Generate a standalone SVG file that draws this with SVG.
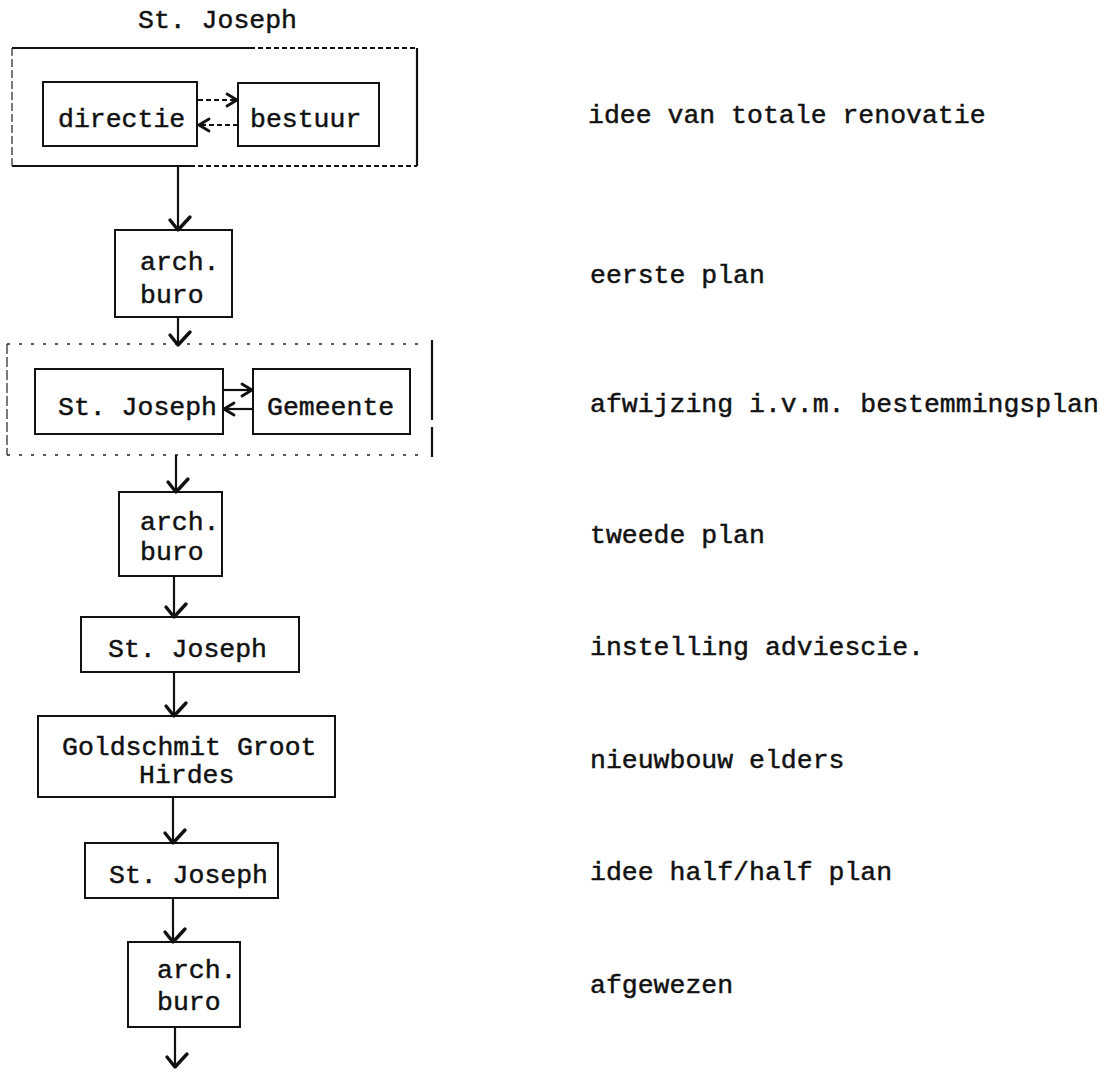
<svg xmlns="http://www.w3.org/2000/svg" width="1109" height="1079" viewBox="0 0 1109 1079">
<style>
text{font-family:"Liberation Mono","Courier New",monospace;font-size:26.5px;fill:#111;stroke:#111;stroke-width:0.45}
.box{fill:none;stroke:#111;stroke-width:2}
.ln{stroke:#111;stroke-width:2.2;fill:none}
.dl{stroke:#111;stroke-width:2;fill:none;stroke-dasharray:5 3}
.thin{stroke:#222;stroke-width:1.2;fill:none}
.sparse{stroke:#222;stroke-width:1.5;fill:none;stroke-dasharray:3 9}
</style>
<defs>
<marker id="ah" markerUnits="userSpaceOnUse" markerWidth="30" markerHeight="30" refX="0" refY="0" orient="auto" style="overflow:visible">
<path d="M-10,8 L0,0 L-13,-12" fill="none" stroke="#111" stroke-width="3.4" stroke-linecap="round" stroke-linejoin="round"/>
</marker>
<marker id="ahs" markerUnits="userSpaceOnUse" markerWidth="20" markerHeight="20" refX="0" refY="0" orient="auto" style="overflow:visible">
<path d="M-10,-6 L0,0 L-10,6" fill="none" stroke="#111" stroke-width="2.8" stroke-linecap="round" stroke-linejoin="round"/>
</marker>
</defs>
<rect width="1109" height="1079" fill="#fff"/>

<g id="group1">
<text x="138" y="28">St. Joseph</text>
<line class="ln" x1="12" y1="48" x2="250" y2="48"/>
<line class="dl" x1="250" y1="48" x2="417" y2="48"/>
<line class="ln" x1="417" y1="48" x2="417" y2="166"/>
<line class="ln" x1="12" y1="166" x2="190" y2="166"/>
<line class="dl" x1="190" y1="166" x2="417" y2="166"/>
<line class="thin" x1="12" y1="48" x2="12" y2="166" stroke-dasharray="8 3"/>
</g>
<g id="directie">
<rect class="box" x="43" y="82" width="154" height="64"/>
<text x="58" y="127">directie</text>
</g>
<g id="bestuur">
<rect class="box" x="238" y="83" width="141" height="63"/>
<text x="250" y="127">bestuur</text>
</g>
<g id="arch1">
<rect class="box" x="115" y="230" width="117" height="87"/>
<text x="140" y="270">arch.</text>
<text x="140" y="303">buro</text>
</g>

<g id="group2">
<line class="sparse" x1="7" y1="344" x2="418" y2="344"/>
<line class="thin" x1="7" y1="344" x2="7" y2="455" stroke-dasharray="10 3"/>
<line class="ln" x1="432" y1="340" x2="432" y2="420"/>
<line class="ln" x1="432" y1="427" x2="432" y2="457"/>
<line class="sparse" x1="7" y1="455" x2="418" y2="455"/>
</g>
<g id="stjoseph2">
<rect class="box" x="35" y="369" width="188" height="65"/>
<text x="58" y="415">St. Joseph</text>
</g>
<g id="gemeente">
<rect class="box" x="253" y="369" width="157" height="65"/>
<text x="267" y="415">Gemeente</text>
</g>
<g id="arch2">
<rect class="box" x="119" y="492" width="103" height="84"/>
<text x="140" y="530">arch.</text>
<text x="140" y="560">buro</text>
</g>
<g id="stjoseph3">
<rect class="box" x="81" y="617" width="218" height="55"/>
<text x="108" y="657">St. Joseph</text>
</g>
<g id="goldschmit">
<rect class="box" x="38" y="716" width="297" height="81"/>
<text x="62" y="755">Goldschmit Groot</text>
<text x="139" y="783">Hirdes</text>
</g>
<g id="stjoseph4">
<rect class="box" x="85" y="843" width="193" height="55"/>
<text x="109" y="883">St. Joseph</text>
</g>
<g id="arch3">
<rect class="box" x="128" y="942" width="112" height="85"/>
<text x="157" y="978">arch.</text>
<text x="157" y="1010">buro</text>
</g>

<g id="connectors">
<line class="ln" x1="178" y1="166" x2="178" y2="230" marker-end="url(#ah)"/>
<line class="ln" x1="178" y1="317" x2="178" y2="345" marker-end="url(#ah)"/>
<line class="ln" x1="176" y1="455" x2="176" y2="492" marker-end="url(#ah)"/>
<line class="ln" x1="174" y1="576" x2="174" y2="617" marker-end="url(#ah)"/>
<line class="ln" x1="174" y1="672" x2="174" y2="716" marker-end="url(#ah)"/>
<line class="ln" x1="173" y1="797" x2="173" y2="843" marker-end="url(#ah)"/>
<line class="ln" x1="173" y1="898" x2="173" y2="942" marker-end="url(#ah)"/>
<line class="ln" x1="175" y1="1027" x2="175" y2="1067" marker-end="url(#ah)"/>
<line class="dl" x1="198" y1="100" x2="237" y2="100" marker-end="url(#ahs)"/>
<line class="dl" x1="238" y1="125" x2="199" y2="125" marker-end="url(#ahs)"/>
<line class="ln" x1="223" y1="390" x2="252" y2="390" marker-end="url(#ahs)"/>
<line class="ln" x1="253" y1="409" x2="224" y2="409" marker-end="url(#ahs)"/>
</g>

<g id="notes">
<text x="588" y="123">idee van totale renovatie</text>
<text x="590" y="283">eerste plan</text>
<text x="590" y="412">afwijzing i.v.m. bestemmingsplan</text>
<text x="590" y="543">tweede plan</text>
<text x="590" y="655">instelling adviescie.</text>
<text x="590" y="768">nieuwbouw elders</text>
<text x="590" y="880">idee half/half plan</text>
<text x="590" y="993">afgewezen</text>
</g>
</svg>
